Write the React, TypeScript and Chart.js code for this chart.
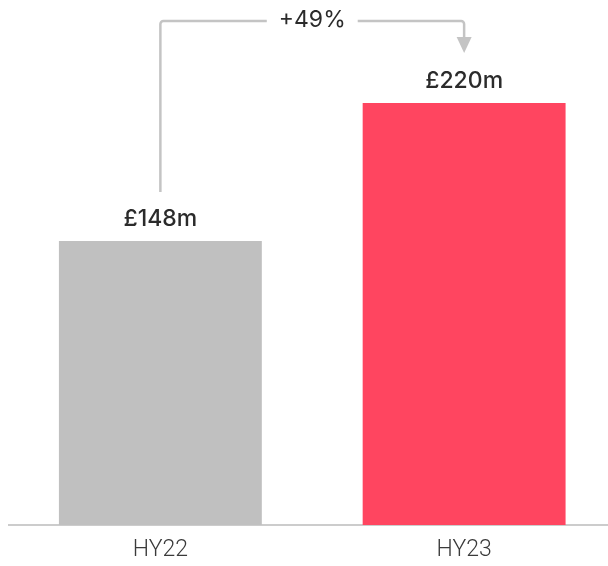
import React, { useEffect, useRef } from "react";
import { Chart, registerables } from "chart.js";

Chart.register(...registerables);

const categories = ["HY22", "HY23"];
const values = [148, 220];
const valueLabels = ["£148m", "£220m"];
const barColors = ["#c0c0c0", "#ff4560"];
const changeLabel = "+49%";

const annotationPlugin = {
  id: "annotations",
  afterDatasetsDraw(chart: any) {
    const ctx = chart.ctx;
    const meta = chart.getDatasetMeta(0);
    const bars = meta.data;
    ctx.save();
    // value labels
    ctx.fillStyle = "#2b2b2b";
    ctx.font = "500 23px Inter";
    ctx.textAlign = "center";
    ctx.textBaseline = "middle";
    bars.forEach((b: any, i: number) => {
      ctx.fillText(valueLabels[i], b.x, b.y - 22);
    });
    // connector
    const b0 = bars[0];
    const b1 = bars[1];
    const lineY = chart.chartArea.top + 14;
    const startY = b0.y - 49;
    const tipY = b1.y - 50;
    const midX = (b0.x + b1.x) / 2;
    ctx.font = "400 23px Inter";
    const tw = ctx.measureText(changeLabel).width;
    const gap = 12;
    const r = 3;
    ctx.strokeStyle = "#c4c4c4";
    ctx.lineWidth = 2.5;
    ctx.beginPath();
    ctx.moveTo(b0.x, startY);
    ctx.lineTo(b0.x, lineY + r);
    ctx.arcTo(b0.x, lineY, b0.x + r, lineY, r);
    ctx.lineTo(midX - tw / 2 - gap, lineY);
    ctx.moveTo(midX + tw / 2 + gap, lineY);
    ctx.lineTo(b1.x - r, lineY);
    ctx.arcTo(b1.x, lineY, b1.x, lineY + r, r);
    ctx.lineTo(b1.x, tipY - 15);
    ctx.stroke();
    ctx.fillStyle = "#c4c4c4";
    ctx.beginPath();
    ctx.moveTo(b1.x - 7.5, tipY - 16);
    ctx.lineTo(b1.x + 7.5, tipY - 16);
    ctx.lineTo(b1.x, tipY);
    ctx.closePath();
    ctx.fill();
    ctx.fillStyle = "#2b2b2b";
    ctx.fillText(changeLabel, midX, lineY - 1);
    ctx.restore();
  },
};

export default function App() {
  const ref = useRef<HTMLCanvasElement>(null);
  useEffect(() => {
    if (!ref.current) return;
    const chart = new Chart(ref.current, {
      type: "bar",
      data: {
        labels: categories,
        datasets: [
          {
            data: values,
            backgroundColor: barColors,
            barPercentage: 0.668,
            categoryPercentage: 1,
          },
        ],
      },
      options: {
        animation: false,
        responsive: false,
        devicePixelRatio: 1,
        layout: { padding: { left: 8.5, right: 2, top: 7, bottom: -10.5 } },
        plugins: { legend: { display: false }, tooltip: { enabled: false } },
        scales: {
          x: {
            grid: { display: false, drawTicks: false },
            border: { display: true, color: "#cccccc", width: 2 },
            ticks: {
              padding: 12,
              color: "#3a3a3a",
              font: { family: "Roboto", size: 23, weight: "300" },
            },
          },
          y: { display: false, min: 0, max: 270 },
        },
      },
      plugins: [annotationPlugin],
    });
    return () => chart.destroy();
  }, []);
  return (
    <div
      style={{
        position: "fixed",
        left: 0,
        top: 0,
        width: 608,
        height: 566,
        overflow: "hidden",
        background: "#fff",
      }}
    >
      <canvas ref={ref} width={618} height={566} style={{ width: 618, height: 566 }} />
    </div>
  );
}
